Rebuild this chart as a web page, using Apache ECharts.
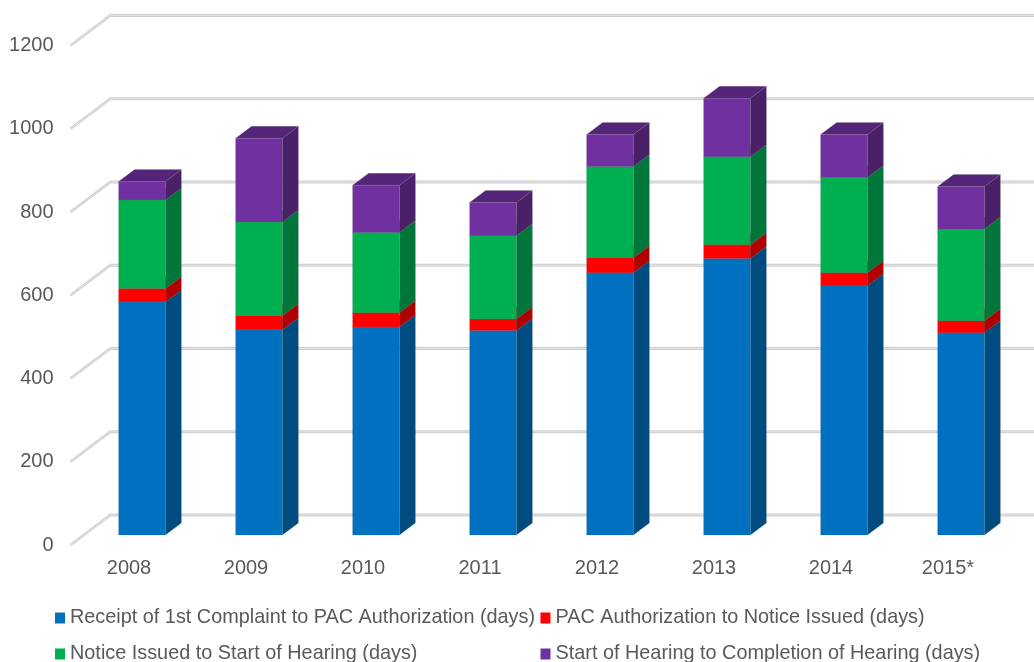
<!DOCTYPE html>
<html>
<head>
<meta charset="utf-8">
<style>html,body{margin:0;padding:0;background:#fff;overflow:hidden}#c{width:1034px;height:662px}</style>
<script src="https://cdn.jsdelivr.net/npm/echarts@6/dist/echarts.min.js"></script>
</head>
<body>
<div id="c"></div>
<script>
const categories = ['2008','2009','2010','2011','2012','2013','2014','2015*'];
const yTicks = [0,200,400,600,800,1000,1200];
const receiptToAuth = [560,493,500,491,630,664,599,486];
const authToNotice = [32,34,34,28,36,33,31,29];
const noticeToHearing = [213,225,193,200,219,212,229,220];
const hearingToDone = [44,201,113,80,77,140,103,102];
const seriesNames = [
  'Receipt of 1st Complaint to PAC Authorization (days)',
  'PAC Authorization to Notice Issued (days)',
  'Notice Issued to Start of Hearing (days)',
  'Start of Hearing to Completion of Hearing (days)'
];
const seriesValues = [receiptToAuth, authToNotice, noticeToHearing, hearingToDone];
const colors = ['#0070C0','#FF0000','#00B050','#7030A0'];
const sideColors = ['#004B80','#B00000','#00763A','#4A2068'];
const topColors = ['#00548F','#C00000','#008A3F','#542478'];

const WALL_DX = 40, WALL_DY = -30;       // floor depth of the 3D box
const BAR_IN_DX = 13, BAR_IN_DY = -10;   // bar front inset from the front plane
const BAR_DX = 16, BAR_DY = -12;         // bar depth
const BAR_W = 0.4;                       // share of band

const chart = echarts.init(document.getElementById('c'), null, {renderer:'canvas'});

function wallItem(params, api){
  const p = api.coord([0, api.value(0)]);
  const band = api.size([1,0])[0];
  const x0 = p[0] - band/2, y0 = p[1];
  const pts = [[x0,y0],[x0+WALL_DX,y0+WALL_DY],[1060,y0+WALL_DY]];
  return {type:'group',children:[
    {type:'polyline',shape:{points:pts},style:{stroke:'#cfcfcf',lineWidth:2.8,fill:null},silent:true},
    {type:'polyline',shape:{points:pts},style:{stroke:'#e4e4e4',lineWidth:1,fill:null},silent:true}
  ]};
}

function barItem(si){
  return function(params, api){
    const c = api.value(0), lo = api.value(1), hi = api.value(2);
    const pl = api.coord([c, lo]), ph = api.coord([c, hi]);
    const w = api.size([1,0])[0]*BAR_W;
    const x = pl[0]+BAR_IN_DX-w/2, yb = pl[1]+BAR_IN_DY, yt = ph[1]+BAR_IN_DY;
    const edge = {stroke:'rgba(120,120,120,0.18)',lineWidth:1};
    return {type:'group',children:[
      {type:'polygon',shape:{points:[[x+w,yb],[x+w+BAR_DX,yb+BAR_DY],[x+w+BAR_DX,yt+BAR_DY],[x+w,yt]]},style:Object.assign({fill:sideColors[si]},edge)},
      {type:'polygon',shape:{points:[[x,yt],[x+w,yt],[x+w+BAR_DX,yt+BAR_DY],[x+BAR_DX,yt+BAR_DY]]},style:Object.assign({fill:topColors[si]},edge)},
      {type:'rect',shape:{x:x,y:yt,width:w,height:yb-yt},style:Object.assign({fill:colors[si]},edge)}
    ]};
  };
}

const barSeries = seriesNames.map((name,si)=>{
  const data = categories.map((_,ci)=>{
    let lo = 0;
    for(let k=0;k<si;k++) lo += seriesValues[k][ci];
    return [ci, lo, lo+seriesValues[si][ci]];
  });
  return {
    type:'custom', name, coordinateSystem:'cartesian2d', clip:false, z:5,
    itemStyle:{color:colors[si]},
    encode:{x:0,y:[1,2]}, data, renderItem:barItem(si)
  };
});

const labelFont = {fontFamily:'"Liberation Sans",Arial,sans-serif',fontSize:20,color:'#595959'};
const legendFont = {fontFamily:'"Liberation Sans",Arial,sans-serif',fontSize:19.85,color:'#595959'};

chart.setOption({
  animation:false,
  backgroundColor:'#fff',
  grid:{left:70.5,top:45.5,width:936,height:499.5,containLabel:false},
  xAxis:{type:'category',data:categories,boundaryGap:true,
    axisLine:{show:false},axisTick:{show:false},splitLine:{show:false},
    axisLabel:Object.assign({margin:13},labelFont)},
  yAxis:{type:'value',min:0,max:1200,interval:200,
    axisLine:{show:false},axisTick:{show:false},splitLine:{show:false},
    axisLabel:Object.assign({margin:17,formatter:v=>String(v)},labelFont)},
  legend:[
    {orient:'vertical',left:55,top:608,height:120,itemWidth:10,itemHeight:11,itemGap:16,icon:'rect',
     padding:0,data:[seriesNames[0],seriesNames[2]],textStyle:legendFont,selectedMode:false},
    {orient:'vertical',left:540.5,top:608,height:120,itemWidth:10,itemHeight:11,itemGap:16,icon:'rect',
     padding:0,data:[seriesNames[1],seriesNames[3]],textStyle:legendFont,selectedMode:false}
  ],
  series:[
    {type:'custom',name:'walls',coordinateSystem:'cartesian2d',clip:false,z:1,silent:true,
     encode:{y:0},data:yTicks.map(v=>[v]),renderItem:wallItem}
  ].concat(barSeries)
});
</script>
</body>
</html>
